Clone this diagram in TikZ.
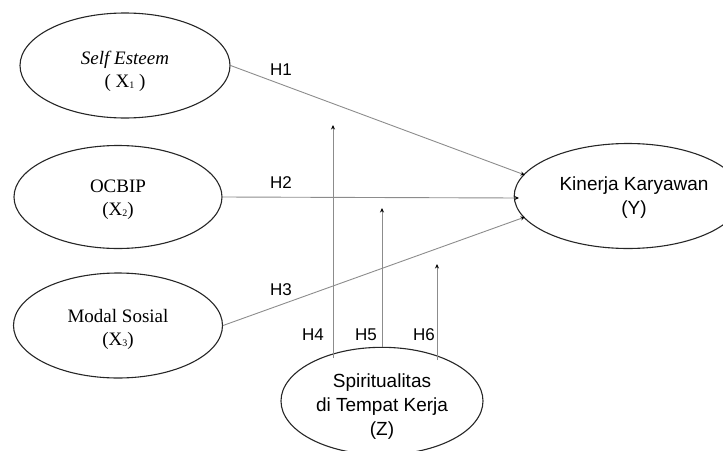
\documentclass[tikz,border=0pt]{standalone}
\usepackage{fontspec}
\setmainfont{Liberation Serif}
\newfontfamily\arialfont{Liberation Sans}
\usetikzlibrary{shapes.geometric,arrows.meta}
\tikzset{
  var/.style={ellipse, draw=black!85, line width=1.1pt, inner sep=0pt, align=center,
     font=\fontsize{19}{23}\selectfont},
  svar/.style={var, font=\arialfont\fontsize{19}{24}\selectfont},
  link/.style={draw=black!45, line width=0.9pt, -{Stealth[length=4.5pt,width=4pt,black]}},
  hlab/.style={font=\arialfont\fontsize{17}{17}\selectfont, inner sep=0pt}
}
\newcommand{\sbx}[1]{\raisebox{-1pt}{\fontsize{10}{10}\selectfont #1}}
\newcommand{\topstrut}[1]{\rule{0pt}{#1}}
\begin{document}
\begin{tikzpicture}[x=1pt,y=-1pt]
\useasboundingbox (0,0) rectangle (723,450);
\node[var, minimum width=210pt, minimum height=105pt] (X1) at (125,65.5)
  {\topstrut{26pt}\textit{Self Esteem}\\( X\sbx{1} )};
\node[var, minimum width=208pt, minimum height=103pt] (X2) at (118,197)
  {\topstrut{18pt}OCBIP\\(X\sbx{2})};
\node[var, minimum width=209pt, minimum height=105pt] (X3) at (118,325.5)
  {\topstrut{22pt}Modal Sosial\\(X\sbx{3})};
\node[svar, minimum width=190pt, minimum height=105pt] (Y) at (628,196)
  {\topstrut{17pt}\hspace*{12pt}Kinerja Karyawan\\\hspace*{12pt}(Y)};
\node[svar, minimum width=202pt, minimum height=98pt] (Z) at (382,401)
  {\topstrut{24pt}Spiritualitas\\di Tempat Kerja\\(Z)};

\coordinate (t1) at (525,175);
\coordinate (t2) at (519,198);
\coordinate (t3) at (525,217);
\coordinate (t4) at (333,125);
\coordinate (t5) at (382,208);
\coordinate (t6) at (437,264);
\coordinate (s4) at ([shift={(-49,-42.6)}]Z.center);
\coordinate (s6) at ([shift={(55,-41)}]Z.center);

\draw[link] (X1.east) -- (t1);
\draw[link] (X2.east) -- (t2);
\draw[link] (X3.east) -- (t3);
\draw[link] (s4) -- (s4 |- t4);
\draw[link] (Z.north) -- (Z.north |- t5);
\draw[link] (s6) -- (s6 |- t6);

\node[hlab] (h1) at (281,70) {H1};
\node[hlab] (h2) at (281,183) {H2};
\node[hlab] (h3) at (281,290) {H3};
\node[hlab] (h4) at (313,335) {H4};
\node[hlab] (h5) at (366,335) {H5};
\node[hlab] (h6) at (424,335) {H6};
\end{tikzpicture}
\end{document}
